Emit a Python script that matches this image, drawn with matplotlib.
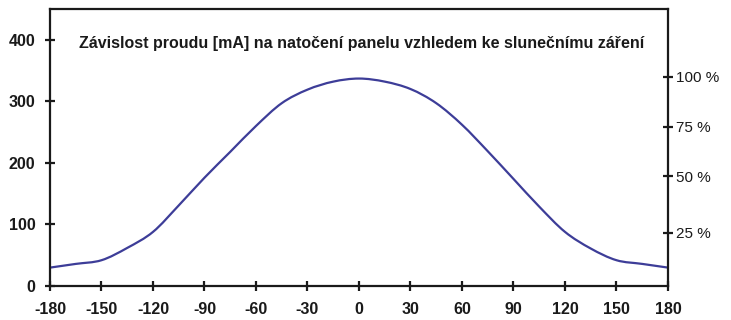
import matplotlib
matplotlib.use("Agg")
import matplotlib.pyplot as plt
from matplotlib.path import Path
from matplotlib.patches import PathPatch
import numpy as np

# Panel rotation angle (degrees) and measured current (mA)
angle_deg = [-180, -165, -150, -135, -120, -105, -90, -75, -60, -45, -30, -15,
             0, 15, 30, 45, 60, 75, 90, 105, 120, 135, 150, 165, 180]
current_ma = [30, 36, 42, 62, 88, 131, 176, 218, 260, 297, 319, 332,
              337, 332, 320, 297, 262, 219, 174, 129, 88, 61, 42, 36, 30]

x_ticks = [-180, -150, -120, -90, -60, -30, 0, 30, 60, 90, 120, 150, 180]
y_ticks = [0, 100, 200, 300, 400]

# Relative scale on the right side
pct_labels = ["100 %", "75 %", "50 %", "25 %"]
pct_positions = [340, 259, 178, 87]

title = "Závislost proudu [mA] na natočení panelu vzhledem ke slunečnímu záření"

plt.rcParams["font.family"] = ["Liberation Sans", "DejaVu Sans"]


def smooth_path(xs, ys, tension=1 / 6):
    """Catmull-Rom spline through the points, as cubic Bezier segments."""
    pts = np.column_stack([xs, ys]).astype(float)
    verts = [pts[0]]
    codes = [Path.MOVETO]
    n = len(pts)
    for i in range(n - 1):
        p0 = pts[max(i - 1, 0)]
        p1 = pts[i]
        p2 = pts[i + 1]
        p3 = pts[min(i + 2, n - 1)]
        c1 = p1 + (p2 - p0) * tension
        c2 = p2 - (p3 - p1) * tension
        verts += [c1, c2, p2]
        codes += [Path.CURVE4] * 3
    return Path(verts, codes)


fig = plt.figure(figsize=(7.31, 3.2), dpi=100)
ax = fig.add_axes([0.0684, 0.106, 0.8454, 0.866])

ax.add_patch(PathPatch(smooth_path(angle_deg, current_ma), facecolor="none",
                       edgecolor="#3d3d98", lw=1.6, capstyle="round"))

ax.set_xlim(-180, 180)
ax.set_ylim(0, 450)
ax.set_xticks(x_ticks)
ax.set_xticklabels([str(v) for v in x_ticks], fontweight="bold")
ax.set_yticks(y_ticks)
ax.set_yticklabels([str(v) for v in y_ticks], fontweight="bold")

for s in ax.spines.values():
    s.set_linewidth(1.6)
    s.set_color("#1a1a1a")

ax.tick_params(axis="both", direction="inout", length=7, width=1.6,
               colors="#1a1a1a", labelsize=11.5, labelcolor="#1a1a1a")
ax.tick_params(axis="x", pad=8)
ax.tick_params(axis="y", pad=7)

ax.text(0.505, 0.875, title, transform=ax.transAxes, ha="center", va="center",
        fontsize=11.5, fontweight="bold", color="#1a1a1a")

ax2 = ax.twinx()
ax2.set_ylim(ax.get_ylim())
ax2.set_yticks(pct_positions)
ax2.set_yticklabels(pct_labels)
ax2.tick_params(axis="y", direction="inout", length=7, width=1.6,
                colors="#1a1a1a", labelsize=11, pad=2)
for s in ax2.spines.values():
    s.set_visible(False)

fig.savefig("out.png", dpi=100)
